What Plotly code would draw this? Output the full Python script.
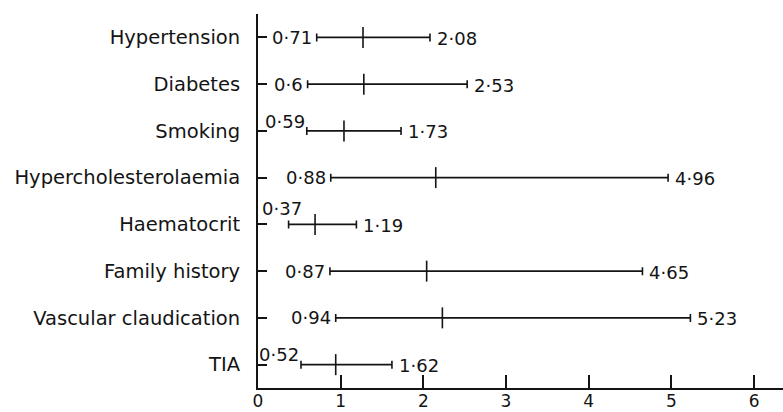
import plotly.graph_objects as go

categories = ["Hypertension", "Diabetes", "Smoking", "Hypercholesterolaemia",
              "Haematocrit", "Family history", "Vascular claudication", "TIA"]
estimate = [1.27, 1.28, 1.04, 2.15, 0.69, 2.04, 2.23, 0.94]
lower = [0.71, 0.60, 0.59, 0.88, 0.37, 0.87, 0.94, 0.52]
upper = [2.08, 2.53, 1.73, 4.96, 1.19, 4.65, 5.23, 1.62]
lower_text = ["0·71", "0·6", "0·59", "0·88", "0·37", "0·87", "0·94", "0·52"]
upper_text = ["2·08", "2·53", "1·73", "4·96", "1·19", "4·65", "5·23", "1·62"]
x_ticks = [0, 1, 2, 3, 4, 5, 6]

INK = "#141414"
FONT = "DejaVu Sans"

fig = go.Figure()
fig.add_trace(go.Scatter(
    x=estimate, y=categories, mode="markers",
    marker=dict(symbol="line-ns", size=15, line=dict(width=1.6, color=INK), color=INK),
    error_x=dict(type="data", symmetric=False,
                 array=[u - e for u, e in zip(upper, estimate)],
                 arrayminus=[e - l for e, l in zip(estimate, lower)],
                 color=INK, thickness=1.6, width=4),
    showlegend=False, hoverinfo="skip"))

# raised lower labels where space is short
raised = {"Smoking": (0, 9), "Haematocrit": (15, 16), "TIA": (0, 10)}
for c, lo, hi, lt, ut in zip(categories, lower, upper, lower_text, upper_text):
    xs, ys = raised.get(c, (-3, 0))
    fig.add_annotation(x=lo, y=c, text=lt, showarrow=False, xanchor="right",
                       xshift=xs, yshift=ys, font=dict(family=FONT, size=18, color=INK))
    fig.add_annotation(x=hi, y=c, text=ut, showarrow=False, xanchor="left",
                       xshift=5, yshift=-1, font=dict(family=FONT, size=18, color=INK))

fig.update_layout(
    width=783, height=412,
    margin=dict(l=258, r=0, t=14, b=24),
    paper_bgcolor="white", plot_bgcolor="white",
    font=dict(family=FONT, size=18, color=INK),
    xaxis=dict(range=[0, 6.35], tickvals=x_ticks, ticks="inside", ticklen=13,
               tickwidth=2, tickcolor=INK, showline=True, linewidth=2, linecolor=INK,
               showgrid=False, zeroline=False, tickfont=dict(size=17),
               ticklabelstandoff=-3, automargin=False),
    yaxis=dict(categoryorder="array", categoryarray=categories, range=[7.5, -0.5],
               ticks="inside", ticklen=9, tickwidth=1.6, tickcolor=INK,
               showline=True, linewidth=2, linecolor=INK, showgrid=False,
               zeroline=False, tickfont=dict(size=19.5), ticklabelstandoff=12,
               automargin=False),
)

fig.write_html("out.html", config={"displayModeBar": False},
               post_script="document.body.style.margin='0';")
